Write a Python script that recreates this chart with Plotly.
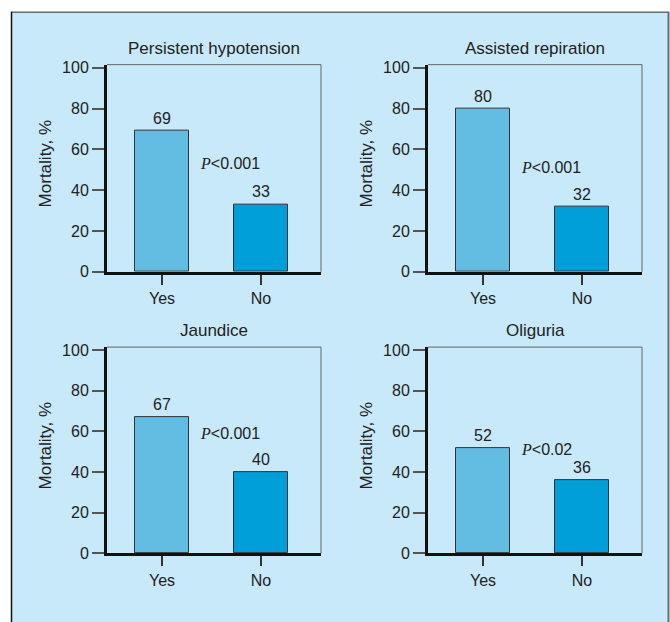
import plotly.graph_objects as go

# ---- data ----
panel_titles = ["Persistent hypotension", "Assisted repiration", "Jaundice", "Oliguria"]
categories = ["Yes", "No"]
yes_values = [69, 80, 67, 52]
no_values = [33, 32, 40, 36]
p_labels = ["<0.001", "<0.001", "<0.001", "<0.02"]
y_ticks = [0, 20, 40, 60, 80, 100]

# ---- style / layout ----
W, H = 670, 622
FONT = "Liberation Sans, Arial, sans-serif"
BG = "#C7E9F9"
YES_COLOR = "#63BDE2"
NO_COLOR = "#009FDA"
TXT = "#222222"

# plot areas in pixels (x0, x1, ytop, ybottom)
boxes = [(107, 321, 61, 273), (428, 642, 61, 273),
         (107, 321, 350, 561), (428, 642, 350, 561)]
p_pos_y = [53, 51, 59, 51]

def px(x):
    return x / W

def py(y):
    return 1 - y / H

fig = go.Figure()
shapes = []
annotations = []

# outer light-blue frame
shapes.append(dict(type="rect", xref="paper", yref="paper", x0=px(11), x1=px(669),
                   y0=-0.05, y1=py(7), fillcolor=BG, line=dict(width=0), layer="below"))
shapes.append(dict(type="line", xref="paper", yref="paper", x0=px(11), x1=px(669),
                   y0=py(7.5), y1=py(7.5), line=dict(color="#6b6f75", width=1.5), layer="below"))
shapes.append(dict(type="line", xref="paper", yref="paper", x0=px(668.5), x1=px(668.5),
                   y0=-0.05, y1=py(7), line=dict(color="#6b6f75", width=2), layer="below"))
shapes.append(dict(type="line", xref="paper", yref="paper", x0=px(11.5), x1=px(11.5),
                   y0=-0.05, y1=py(7), line=dict(color="#111111", width=1.5), layer="below"))

layout_axes = {}
for i in range(4):
    x0, x1, yt, yb = boxes[i]
    xa = "xaxis" if i == 0 else f"xaxis{i+1}"
    ya = "yaxis" if i == 0 else f"yaxis{i+1}"
    xr = "x" if i == 0 else f"x{i+1}"
    yr = "y" if i == 0 else f"y{i+1}"

    vals = [yes_values[i], no_values[i]]
    fig.add_trace(go.Bar(
        x=[0, 1], y=vals, width=0.545,
        marker=dict(color=[YES_COLOR, NO_COLOR], line=dict(color="#333333", width=1)),
        xaxis=xr, yaxis=yr, showlegend=False, hoverinfo="skip"))

    layout_axes[xa] = dict(
        domain=[px(x0), px(x1)], anchor=yr, range=[-0.556, 1.606],
        tickmode="array", tickvals=[0, 1], ticktext=categories,
        showline=True, linewidth=3, linecolor="#111111",
        ticks="outside", ticklen=10, tickwidth=1.5, tickcolor="#333333",
        tickfont=dict(family=FONT, size=16, color=TXT),
        showgrid=False, zeroline=False, fixedrange=True)
    layout_axes[ya] = dict(
        domain=[py(yb), py(yt)], anchor=xr, range=[0, 101.5],
        tickmode="array", tickvals=y_ticks,
        showline=True, linewidth=3, linecolor="#111111",
        ticks="outside", ticklen=12, tickwidth=1.5, tickcolor="#555555",
        tickfont=dict(family=FONT, size=16, color=TXT),
        showgrid=False, zeroline=False, fixedrange=True)

    # thin top / right borders
    shapes.append(dict(type="line", xref=f"{xr} domain", yref=f"{yr} domain",
                       x0=0, x1=1, y0=1, y1=1, line=dict(color="#666666", width=1)))
    shapes.append(dict(type="line", xref=f"{xr} domain", yref=f"{yr} domain",
                       x0=1, x1=1, y0=0, y1=1, line=dict(color="#666666", width=1)))

    # panel title
    annotations.append(dict(text=panel_titles[i], xref="paper", yref="paper",
                            x=(px(x0) + px(x1)) / 2, y=py(yt - 5), xanchor="center",
                            yanchor="bottom", showarrow=False,
                            font=dict(family=FONT, size=17, color=TXT)))
    # y axis title
    annotations.append(dict(text="Mortality, %", xref="paper", yref="paper",
                            x=px(x0 - 62), y=(py(yt) + py(yb)) / 2 + 0.008, textangle=-90,
                            xanchor="center", yanchor="middle", showarrow=False,
                            font=dict(family=FONT, size=17, color=TXT)))
    # value labels
    for j, v in enumerate(vals):
        annotations.append(dict(text=str(v), xref=xr, yref=yr, x=j, y=v,
                                xanchor="center", yanchor="bottom", yshift=2,
                                showarrow=False,
                                font=dict(family=FONT, size=16, color=TXT)))
    # p-value
    annotations.append(dict(
        text="<span style=\"font-family:'Liberation Serif', 'DejaVu Serif', serif\"><i>P</i></span>"
             + p_labels[i].replace("<", "&lt;"),
        xref=xr, yref=yr, x=0.36, y=p_pos_y[i], xanchor="left", yanchor="middle",
        showarrow=False, font=dict(family=FONT, size=16, color=TXT)))

fig.update_layout(
    width=W, height=H, margin=dict(l=0, r=0, t=0, b=0),
    paper_bgcolor="white", plot_bgcolor="white",
    shapes=shapes, annotations=annotations, bargap=0,
    **layout_axes)

fig.write_html("out.html", config={"displayModeBar": False},
               post_script="document.body.style.margin='0';")
